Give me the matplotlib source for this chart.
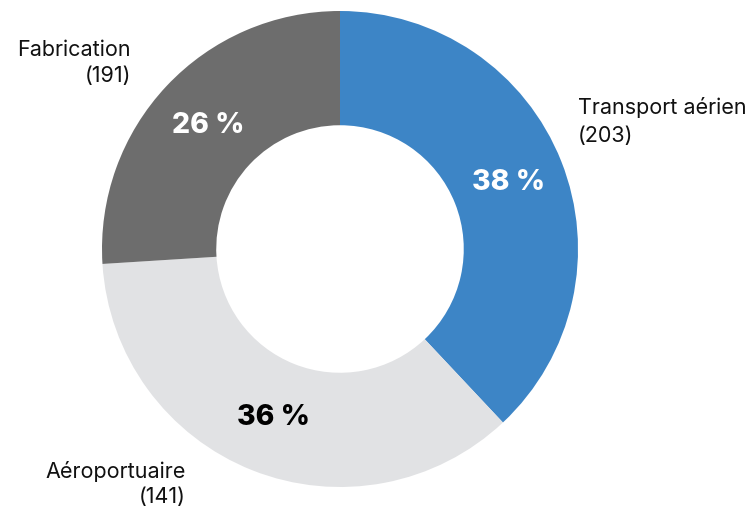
import matplotlib.pyplot as plt

plt.rcParams['font.family'] = ['Inter', 'DejaVu Sans']

# slices, clockwise from 12 o'clock
categories = ['Transport aérien', 'Aéroportuaire', 'Fabrication']
counts = ['(203)', '(141)', '(191)']
shares = [38, 36, 26]
colors = ['#3d85c6', '#e1e2e4', '#6d6d6d']
pct_colors = ['white', 'black', 'white']

W, H = 755, 516
cx, cy, R = 340, 249, 238  # pie centre and radius in pixels

fig = plt.figure(figsize=(W / 100, H / 100), dpi=100)
ax = fig.add_axes([(cx - R) / W, (H - cy - R) / H, 2 * R / W, 2 * R / H])

wedges, texts, autotexts = ax.pie(
    shares, colors=colors, startangle=90, counterclock=False, radius=1,
    wedgeprops=dict(width=0.48, linewidth=0),
    autopct=lambda p: f'{p:.0f} %', pctdistance=0.76,
)
for t, c in zip(autotexts, pct_colors):
    t.set_color(c)
    t.set_fontsize(20.5)
    t.set_fontweight('heavy')

ax.set_xlim(-1, 1)
ax.set_ylim(-1, 1)
ax.set_aspect('equal')
ax.axis('off')


def px(x, y):
    return (x - cx) / R, (cy - y) / R


# outside labels: (x, y of first line, y of second line, alignment)
label_pos = [(578, 108, 136, 'left'), (186, 472, 497, 'right'), (131, 50, 76, 'right')]
for name, cnt, (x, y1, y2, ha) in zip(categories, counts, label_pos):
    ax.text(*px(x, y1), name, ha=ha, va='center', fontsize=15.5, color='#111111', clip_on=False)
    ax.text(*px(x, y2), cnt, ha=ha, va='center', fontsize=15.5, color='#111111', clip_on=False)

fig.savefig('out.png', dpi=100)
